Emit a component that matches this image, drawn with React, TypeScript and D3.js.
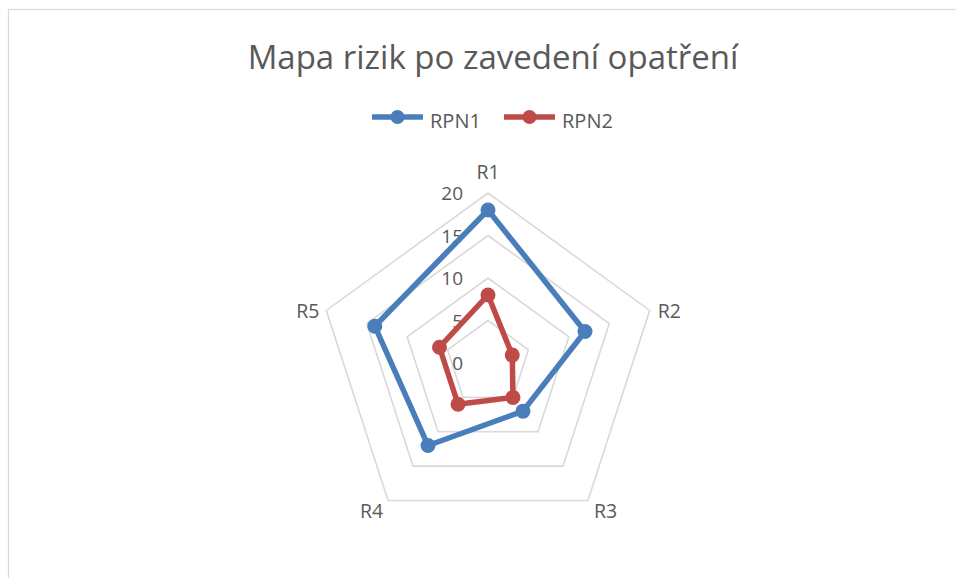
import React from "react";
import * as d3 from "d3";

// chart data
const categories = ["R1", "R2", "R3", "R4", "R5"];
const rpn1 = [18, 12, 7, 12, 14];
const rpn2 = [8, 3, 5, 6, 6];
const ticks = [0, 5, 10, 15, 20];
const seriesNames = ["RPN1", "RPN2"];
const seriesColors = ["#4a7ebb", "#be4b48"];

const width = 956;
const height = 578;
const cx = 488;
const cy = 363;
const radius = 170;
const font = "'Open Sans', 'Liberation Sans', sans-serif";
const textColor = "#595959";

export default function App() {
  const r = d3.scaleLinear().domain([0, 20]).range([0, radius]);
  const angle = d3
    .scaleLinear()
    .domain([0, categories.length])
    .range([0, 2 * Math.PI]);

  // point in page coords for index i, value v
  const pt = (i: number, v: number): [number, number] => {
    const a = angle(i);
    return [cx + r(v) * Math.sin(a), cy - r(v) * Math.cos(a)];
  };

  const ring = d3
    .lineRadial<number>()
    .angle((_, i) => angle(i))
    .radius((d) => r(d))
    .curve(d3.curveLinearClosed);

  const series = [rpn1, rpn2];

  // label placement around each outer vertex
  const labelPos = (i: number) => {
    const [x, y] = pt(i, 20);
    const s = Math.sin(angle(i));
    const c = Math.cos(angle(i));
    if (Math.abs(s) < 0.1) return { x, y: y - 14, anchor: "middle" };
    if (c < -0.5)
      return { x: s > 0 ? x + 6 : x - 5, y: y + 17, anchor: s > 0 ? "start" : "end" };
    return { x: s > 0 ? x + 8 : x - 7, y: y + 7.5, anchor: s > 0 ? "start" : "end" };
  };

  const legendX = [372, 504];

  return (
    <div style={{ position: "absolute", left: 0, top: 0 }}>
      <svg width={width} height={height} style={{ display: "block", background: "#fff" }}>
        <rect x={8.5} y={9.5} width={1000} height={700} fill="#fff" stroke="#d9d9d9" strokeWidth={1.2} />

        <text
          x={493}
          y={69}
          textAnchor="middle"
          fontFamily={font}
          fontSize={33}
          fill={textColor}
        >
          Mapa rizik po zavedení opatření
        </text>

        {/* legend */}
        {seriesNames.map((name, k) => (
          <g key={name} transform={`translate(${legendX[k]},117)`}>
            <line x1={0} x2={51} y1={0} y2={0} stroke={seriesColors[k]} strokeWidth={5.5} />
            <circle cx={25.5} cy={0} r={7} fill={seriesColors[k]} />
            <text x={58} y={11} fontFamily={font} fontSize={20} fill={textColor}>
              {name}
            </text>
          </g>
        ))}

        {/* grid rings */}
        <g transform={`translate(${cx},${cy})`}>
          {ticks
            .filter((t) => t > 0)
            .map((t) => (
              <path
                key={t}
                d={ring(categories.map(() => t)) || ""}
                fill="none"
                stroke="#d9d9d9"
                strokeWidth={1.6}
              />
            ))}
        </g>

        {/* tick labels */}
        {ticks.map((t) => (
          <text
            key={t}
            x={cx - 25}
            y={cy - r(t) + 7}
            textAnchor="end"
            fontFamily={font}
            fontSize={19}
            fill={textColor}
          >
            {t}
          </text>
        ))}

        {/* category labels */}
        {categories.map((c, i) => {
          const p = labelPos(i);
          return (
            <text
              key={c}
              x={p.x}
              y={p.y}
              textAnchor={p.anchor as any}
              fontFamily={font}
              fontSize={19.5}
              fill={textColor}
            >
              {c}
            </text>
          );
        })}

        {/* series */}
        {series.map((vals, k) => (
          <g key={k}>
            <path
              transform={`translate(${cx},${cy})`}
              d={ring(vals) || ""}
              fill="none"
              stroke={seriesColors[k]}
              strokeWidth={5.5}
              strokeLinejoin="round"
            />
            {vals.map((v, i) => {
              const [x, y] = pt(i, v);
              return <circle key={i} cx={x} cy={y} r={7.5} fill={seriesColors[k]} />;
            })}
          </g>
        ))}
      </svg>
    </div>
  );
}
